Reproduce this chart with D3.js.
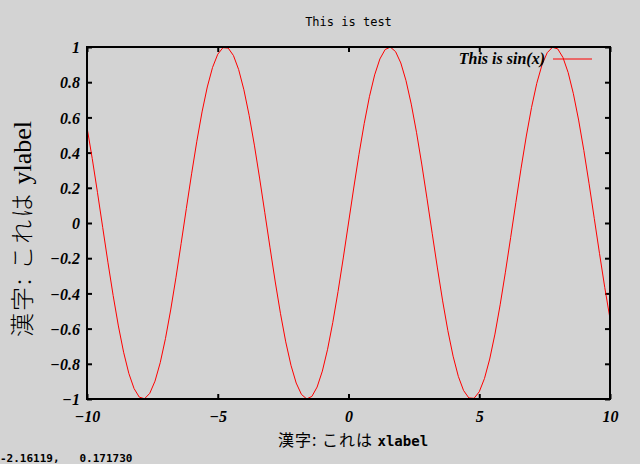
<!DOCTYPE html>
<html>
<head>
<meta charset="utf-8">
<script src="https://cdn.jsdelivr.net/npm/d3@7"></script>
<style>
  body { margin: 0; background: #d3d3d3; }
  svg { display: block; }
</style>
</head>
<body>
<div class="plot"></div>
<script>
//sample points of the curve, x from -10 to 10 by 0.2
var xValues = [
  -10, -9.8, -9.6, -9.4, -9.2, -9, -8.8, -8.6, -8.4, -8.2,
  -8, -7.8, -7.6, -7.4, -7.2, -7, -6.8, -6.6, -6.4, -6.2,
  -6, -5.8, -5.6, -5.4, -5.2, -5, -4.8, -4.6, -4.4, -4.2,
  -4, -3.8, -3.6, -3.4, -3.2, -3, -2.8, -2.6, -2.4, -2.2,
  -2, -1.8, -1.6, -1.4, -1.2, -1, -0.8, -0.6, -0.4, -0.2,
  0, 0.2, 0.4, 0.6, 0.8, 1, 1.2, 1.4, 1.6, 1.8,
  2, 2.2, 2.4, 2.6, 2.8, 3, 3.2, 3.4, 3.6, 3.8,
  4, 4.2, 4.4, 4.6, 4.8, 5, 5.2, 5.4, 5.6, 5.8,
  6, 6.2, 6.4, 6.6, 6.8, 7, 7.2, 7.4, 7.6, 7.8,
  8, 8.2, 8.4, 8.6, 8.8, 9, 9.2, 9.4, 9.6, 9.8, 10
];
var yValues = [
  0.5440, 0.3665, 0.1743, -0.0248, -0.2229, -0.4121, -0.5849, -0.7344, -0.8546, -0.9407,
  -0.9894, -0.9985, -0.9679, -0.8987, -0.7937, -0.6570, -0.4941, -0.3115, -0.1165, 0.0831,
  0.2794, 0.4646, 0.6313, 0.7728, 0.8835, 0.9589, 0.9962, 0.9937, 0.9516, 0.8716,
  0.7568, 0.6119, 0.4425, 0.2555, 0.0584, -0.1411, -0.3350, -0.5155, -0.6755, -0.8085,
  -0.9093, -0.9738, -0.9996, -0.9854, -0.9320, -0.8415, -0.7174, -0.5646, -0.3894, -0.1987,
  0, 0.1987, 0.3894, 0.5646, 0.7174, 0.8415, 0.9320, 0.9854, 0.9996, 0.9738,
  0.9093, 0.8085, 0.6755, 0.5155, 0.3350, 0.1411, -0.0584, -0.2555, -0.4425, -0.6119,
  -0.7568, -0.8716, -0.9516, -0.9937, -0.9962, -0.9589, -0.8835, -0.7728, -0.6313, -0.4646,
  -0.2794, -0.0831, 0.1165, 0.3115, 0.4941, 0.6570, 0.7937, 0.8987, 0.9679, 0.9985,
  0.9894, 0.9407, 0.8546, 0.7344, 0.5849, 0.4121, 0.2229, 0.0248, -0.1743, -0.3665, -0.5440
];

//tick values for the axes
var xTicks = [-10, -5, 0, 5, 10];
var yTicks = [-1, -0.8, -0.6, -0.4, -0.2, 0, 0.2, 0.4, 0.6, 0.8, 1];
var xTickLabels = ["\u221210", "\u22125", "0", "5", "10"];
var yTickLabels = ["\u22121", "\u22120.8", "\u22120.6", "\u22120.4", "\u22120.2", "0", "0.2", "0.4", "0.6", "0.8", "1"];

//texts
var titleText = "This is test";
var legendText = "This is sin(x)";
var mouseText = "-2.16119,   0.171730";

const w = 640;
const h = 464;
const pLeft = 87, pRight = 610, pTop = 47, pBottom = 399;

const xScale = d3.scaleLinear().domain([-10, 10]).range([pLeft, pRight]);
const yScale = d3.scaleLinear().domain([-1, 1]).range([pBottom, pTop]);

const svg = d3.select(".plot")
  .append("svg")
  .attr("width", w)
  .attr("height", h);

svg.append("rect")
  .attr("width", w)
  .attr("height", h)
  .attr("fill", "#d3d3d3");

const tickFont = "'Liberation Serif', 'DejaVu Serif', serif";

//bottom axis, ticks inside the frame
const xAxis = d3.axisBottom(xScale)
  .tickValues(xTicks)
  .tickSize(-5)
  .tickPadding(9)
  .tickFormat((d, i) => xTickLabels[i]);
const gx = svg.append("g")
  .attr("transform", "translate(0," + pBottom + ")")
  .call(xAxis);

//top mirror ticks
const gxTop = svg.append("g")
  .attr("transform", "translate(0," + pTop + ")")
  .call(d3.axisTop(xScale).tickValues(xTicks).tickSize(-5).tickFormat(""));

//left axis
const yAxis = d3.axisLeft(yScale)
  .tickValues(yTicks)
  .tickSize(-5)
  .tickPadding(7)
  .tickFormat((d, i) => yTickLabels[i]);
const gy = svg.append("g")
  .attr("transform", "translate(" + pLeft + ",0)")
  .call(yAxis);

//right mirror ticks
const gyRight = svg.append("g")
  .attr("transform", "translate(" + pRight + ",0)")
  .call(d3.axisRight(yScale).tickValues(yTicks).tickSize(-5).tickFormat(""));

[gx, gxTop, gy, gyRight].forEach(g => {
  g.select(".domain").remove();
  g.selectAll(".tick line").attr("stroke", "#000").attr("stroke-width", 2);
  g.selectAll(".tick text")
    .attr("fill", "#000")
    .style("font-family", tickFont)
    .style("font-style", "italic")
    .style("font-weight", "bold")
    .style("font-size", "16px");
});
gy.selectAll(".tick text").attr("dy", "0.35em");
gx.selectAll(".tick text").attr("dy", "0.85em");

//the curve
const line = d3.line()
  .x((d, i) => xScale(xValues[i]))
  .y(d => yScale(d));

svg.append("path")
  .datum(yValues)
  .attr("d", line)
  .attr("fill", "none")
  .attr("stroke", "#ff0000")
  .attr("stroke-width", 1);

//frame
svg.append("rect")
  .attr("x", pLeft)
  .attr("y", pTop)
  .attr("width", pRight - pLeft)
  .attr("height", pBottom - pTop)
  .attr("fill", "none")
  .attr("stroke", "#000")
  .attr("stroke-width", 2);

//legend
svg.append("text")
  .attr("x", 545)
  .attr("y", 64)
  .attr("text-anchor", "end")
  .style("font-family", tickFont)
  .style("font-style", "italic")
  .style("font-weight", "bold")
  .style("font-size", "16px")
  .text(legendText);

svg.append("line")
  .attr("x1", 553)
  .attr("x2", 592)
  .attr("y1", 59)
  .attr("y2", 59)
  .attr("stroke", "#ff0000")
  .attr("stroke-width", 1);

//title
svg.append("text")
  .attr("x", (pLeft + pRight) / 2)
  .attr("y", 26)
  .attr("text-anchor", "middle")
  .style("font-family", "'DejaVu Sans Mono', monospace")
  .style("font-size", "12px")
  .text(titleText);

//x label
const xl = svg.append("text")
  .attr("x", 353)
  .attr("y", 446)
  .attr("text-anchor", "middle")
  .style("font-size", "16px");
xl.append("tspan")
  .style("font-family", "'Noto Sans CJK JP', sans-serif")
  .style("letter-spacing", "1px")
  .text("漢字: これは ");
xl.append("tspan")
  .style("font-family", "'DejaVu Sans Mono', monospace")
  .style("font-weight", "bold")
  .style("font-size", "14px")
  .text("xlabel");

//y label
const yl = svg.append("text")
  .attr("transform", "translate(31," + 229 + ") rotate(-90)")
  .attr("text-anchor", "middle")
  .style("font-size", "24px");
yl.append("tspan")
  .style("font-family", "'Noto Sans CJK JP', sans-serif")
  .style("font-weight", "300")
  .style("letter-spacing", "2px")
  .text("漢字: これは ");
yl.append("tspan")
  .style("font-family", "'Liberation Serif', serif")
  .style("font-size", "26px")
  .text("ylabel");

//mouse position readout
svg.append("text")
  .attr("x", 0)
  .attr("y", 462)
  .style("font-family", "'DejaVu Sans Mono', monospace")
  .style("font-weight", "bold")
  .style("font-size", "11px")
  .attr("xml:space", "preserve")
  .style("white-space", "pre")
  .text(mouseText);
</script>
</body>
</html>
